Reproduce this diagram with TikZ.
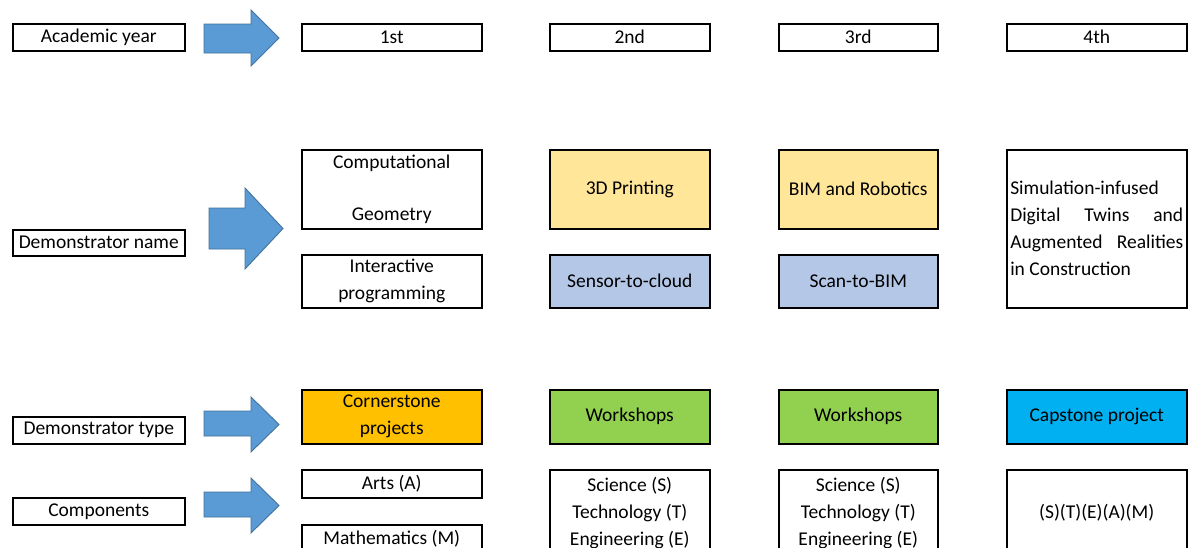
\documentclass[tikz,border=0pt]{standalone}
\usepackage{fontspec}
\setmainfont{Carlito}
\usetikzlibrary{positioning}
\definecolor{arrowblue}{HTML}{5B9BD5}
\definecolor{arrowedge}{HTML}{41719C}
\definecolor{paleyellow}{HTML}{FFE699}
\definecolor{paleblue}{HTML}{B4C7E7}
\definecolor{gold}{HTML}{FFC000}
\definecolor{grassgreen}{HTML}{92D050}
\definecolor{skyblue}{HTML}{00B0F0}
\tikzset{
  box/.style={draw, line width=1.5pt, inner sep=0pt, anchor=north west, align=center,
    font=\fontsize{19.5}{27}\selectfont},
  blockarrow/.style={fill=arrowblue, draw=arrowedge, line width=0.9pt, line join=miter}
}
% body left, body top, body bottom, head start, head top, head bottom, tip
\newcommand{\fatarrow}[7]{%
  \draw[blockarrow] (#1,#2) -- (#4,#2) -- (#4,#5) -- (#7,{(#5+#6)/2}) -- (#4,#6) -- (#4,#3) -- (#1,#3) -- cycle;}
\newcommand{\fullline}[1]{\hbox to 173pt{#1}}

\begin{document}
\begin{tikzpicture}[x=1pt, y=-1pt]
        \useasboundingbox (0,0) rectangle (1189,547);
        \clip (0,0) rectangle (1189,547);
        % left column
        \node[box, minimum width=172, minimum height=27] (ayear) at (12,23) {Academic year};
        \node[box, minimum width=172, minimum height=26] (dname) at (12,229) {Demonstrator name};
        \node[box, minimum width=172, minimum height=27] (dtype) at (12,416) {Demonstrator type};
        \node[box, minimum width=172, minimum height=27] (comps) at (12,497) {Components};
        \fatarrow{204}{24}{53}{251}{10}{66}{279}
        \fatarrow{209}{208}{249}{245}{188}{269}{283}
        \fatarrow{204}{411}{436}{251}{397}{452}{279}
        \fatarrow{204}{492}{517}{251}{478}{533}{279}
        % years
        \node[box, minimum width=180, minimum height=27] (year1) at (301,23) {1st};
        \node[box, minimum width=160, minimum height=27] (year2) at (549,23) {2nd};
        \node[box, minimum width=159, minimum height=27] (year3) at (778,23) {3rd};
        \node[box, minimum width=180, minimum height=27] (year4) at (1006,23) {4th};
        % demonstrator names
        \node[box, minimum width=180, minimum height=79] (geom) at (301,149) {Computational\\[25pt]Geometry};
        \node[box, minimum width=180, minimum height=53] (interact) at (301,254) {Interactive\\programming};
        \node[box, fill=paleyellow, minimum width=160, minimum height=79] (print) at (549,149) {3D Printing};
        \node[box, fill=paleblue, minimum width=160, minimum height=53] (sensor) at (549,254) {Sensor-to-cloud};
        \node[box, fill=paleyellow, minimum width=159, minimum height=79] (bimrob) at (778,149) {BIM and Robotics};
        \node[box, fill=paleblue, minimum width=159, minimum height=53] (scan) at (778,254) {Scan-to-BIM};
        \node[box, align=left, minimum width=180, minimum height=158] (twins) at (1006,149)
          {\fullline{Simulation-infused\hfill}\\\fullline{Digital\hfill Twins\hfill and}\\
           \fullline{Augmented\hfill Realities}\\\fullline{in Construction\hfill}};
        % demonstrator types
        \node[box, fill=gold, minimum width=180, minimum height=54] (corner) at (301,389) {Cornerstone\\projects};
        \node[box, fill=grassgreen, minimum width=160, minimum height=54] (work2) at (549,389) {Workshops};
        \node[box, fill=grassgreen, minimum width=159, minimum height=54] (work3) at (778,389) {Workshops};
        \node[box, fill=skyblue, minimum width=180, minimum height=54] (capstone) at (1006,389) {Capstone project};
        % components
        \node[box, minimum width=180, minimum height=28] (arts) at (301,469) {Arts (A)};
        \node[box, minimum width=180, minimum height=28] (maths) at (301,524) {Mathematics (M)};
        \node[box, minimum width=160, minimum height=86] (ste2) at (549,469) {Science (S)\\Technology (T)\\Engineering (E)};
        \node[box, minimum width=159, minimum height=86] (ste3) at (778,469) {Science (S)\\Technology (T)\\Engineering (E)};
        \node[box, minimum width=180, minimum height=86] (steam) at (1006,469) {(S)(T)(E)(A)(M)};
\end{tikzpicture}
\end{document}
